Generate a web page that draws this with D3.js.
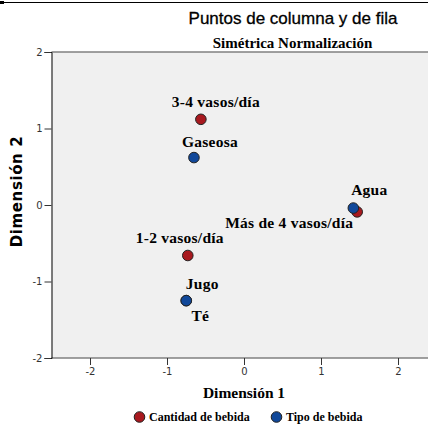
<!DOCTYPE html>
<html><head><meta charset="utf-8">
<script src="https://cdn.jsdelivr.net/npm/d3@7"></script>
<style>body{margin:0;background:#fff}svg{display:block}</style>
</head><body>
<script>
// Data
const seriesNames = ["Cantidad de bebida", "Tipo de bebida"];
const seriesColors = ["#a8191f", "#11489a"];
const cantidadLabels = ["3-4 vasos/día", "1-2 vasos/día", "Más de 4 vasos/día"];
const cantidadDim1 = [-0.56, -0.73, 1.47];
const cantidadDim2 = [1.12, -0.66, -0.09];
const tipoLabels = ["Gaseosa", "Agua", "Jugo", "Té"];
const tipoDim1 = [-0.65, 1.42, -0.75, -0.75];
const tipoDim2 = [0.62, -0.04, -1.25, -1.25];
const xTicks = [-2, -1, 0, 1, 2];
const yTicks = [-2, -1, 0, 1, 2];
// label placement (text-center dx, baseline dy, in px from point)
const labelOffsets = {
  "3-4 vasos/día": [15, -12], "1-2 vasos/día": [-8, -12], "Más de 4 vasos/día": [-68, 16],
  "Gaseosa": [16, -11], "Agua": [16, -13], "Jugo": [16, -12], "Té": [14, 20]
};

const SERIF = "'Liberation Serif'";
const SANS = "'Liberation Sans'";
const DV = "'DejaVu Sans'";

const W = 428, H = 425;
const svg = d3.select("body").append("svg").attr("width", W).attr("height", H);

const x = d3.scaleLinear().domain([-2.5, 2.5]).range([51.5, 436.5]);
const y = d3.scaleLinear().domain([-2, 2]).range([358, 52]);

// top rule
svg.append("line").attr("x1", 0).attr("x2", W).attr("y1", 2.5).attr("y2", 2.5).attr("stroke", "#000").attr("stroke-width", 1.2);
svg.append("rect").attr("x", 0).attr("y", 1).attr("width", 4).attr("height", 3).attr("fill", "#000");

// titles
svg.append("text").attr("x", 293).attr("y", 24).attr("text-anchor", "middle")
  .style("font-family", SANS).style("font-size", "17px").attr("fill", "#000").attr("stroke", "#000").attr("stroke-width", 0.3)
  .text("Puntos de columna y de fila");
svg.append("text").attr("x", 292.5).attr("y", 48).attr("text-anchor", "middle")
  .style("font-family", SERIF).style("font-weight", "bold").style("font-size", "15px").attr("fill", "#000")
  .text("Simétrica Normalización");

// plot background
svg.append("rect").attr("x", x(-2.5)).attr("y", y(2)).attr("width", x(2.5) - x(-2.5)).attr("height", y(-2) - y(2))
  .attr("fill", "#f0f0f0");
svg.append("line").attr("x1", x(-2.5)).attr("x2", W + 10).attr("y1", y(2)).attr("y2", y(2)).attr("stroke", "#808080").attr("stroke-width", 1.5);
svg.append("line").attr("x1", x(-2.5)).attr("x2", W + 10).attr("y1", y(-2)).attr("y2", y(-2)).attr("stroke", "#808080").attr("stroke-width", 1.5);

const fmt = d => String(d);

// axes
const xAxis = svg.append("g").attr("transform", `translate(0,${y(-2)})`)
  .call(d3.axisBottom(x).tickValues(xTicks).tickSize(7).tickPadding(3).tickFormat(fmt));
xAxis.select(".domain").remove();
xAxis.selectAll("line").attr("stroke", "#333");
xAxis.selectAll("text").style("font-family", DV).style("font-size", "10px").attr("fill", "#333");

const yAxis = svg.append("g").attr("transform", `translate(${x(-2.5)},0)`)
  .call(d3.axisLeft(y).tickValues(yTicks).tickSize(7).tickPadding(2).tickFormat(fmt));
yAxis.select(".domain").attr("stroke", "#000");
yAxis.selectAll("line").attr("stroke", "#333");
yAxis.selectAll("text").style("font-family", DV).style("font-size", "10px").attr("fill", "#333");

// axis titles
svg.append("text").attr("x", 244).attr("y", 398).attr("text-anchor", "middle")
  .style("font-family", SERIF).style("font-weight", "bold").style("font-size", "15.5px")
  .text("Dimensión 1");
svg.append("text").attr("transform", "translate(22,191.5) rotate(-90)").attr("text-anchor", "middle")
  .style("font-family", DV).style("font-weight", "bold").style("font-size", "15px").style("letter-spacing", "0.6px")
  .text("Dimensión 2");

// points
const cantidad = cantidadLabels.map((l, i) => ({label: l, d1: cantidadDim1[i], d2: cantidadDim2[i], s: 0}));
const tipo = tipoLabels.map((l, i) => ({label: l, d1: tipoDim1[i], d2: tipoDim2[i], s: 1}));
const all = cantidad.concat(tipo);

svg.append("g").selectAll("circle").data(all).join("circle")
  .attr("cx", d => x(d.d1)).attr("cy", d => y(d.d2)).attr("r", 5.3)
  .attr("fill", d => seriesColors[d.s]).attr("stroke", "#222").attr("stroke-width", 1);

svg.append("g").selectAll("text").data(all).join("text")
  .attr("x", d => x(d.d1) + labelOffsets[d.label][0]).attr("y", d => y(d.d2) + labelOffsets[d.label][1])
  .attr("text-anchor", "middle")
  .style("font-family", SERIF).style("font-weight", "bold").style("font-size", "15.5px").style("letter-spacing", "0.25px")
  .attr("fill", "#000").text(d => d.label);

// legend
const legX = [139.5, 276.5];
const leg = svg.append("g").selectAll("g").data(seriesNames).join("g")
  .attr("transform", (d, i) => `translate(${legX[i]},417)`);
leg.append("circle").attr("r", 5.3).attr("fill", (d, i) => seriesColors[i]).attr("stroke", "#222");
leg.append("text").attr("x", 9.5).attr("y", 4)
  .style("font-family", SERIF).style("font-weight", "bold").style("font-size", "12px").text(d => d);
</script>
</body></html>
